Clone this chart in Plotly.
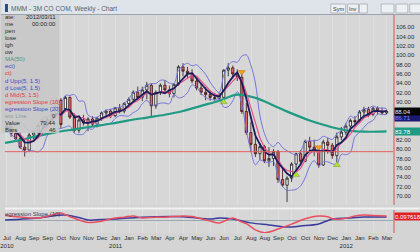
import plotly.graph_objects as go
import pandas as pd

# ---------------- data ----------------
dates = pd.date_range("2010-07-25", periods=86, freq="7D")

opens = [85.5, 84.6, 84.9, 83.3, 82.2, 80.4, 79.8, 83.0, 83.6, 85.0,
         86.0, 86.3, 87.5, 90.4, 88.6, 91.0, 86.8, 84.0, 86.2, 85.6,
         86.4, 85.3, 86.6, 87.7, 88.1, 87.1, 88.8, 88.1, 89.7, 90.6,
         92.1, 91.0, 92.6, 93.6, 89.2, 92.1, 93.6, 92.6, 91.8, 93.8,
         97.5, 96.6, 96.1, 94.5, 93.0, 92.1, 91.6, 91.0, 90.8, 91.0,
         96.8, 97.3, 96.0, 95.3, 88.0, 83.5, 81.0, 79.0, 80.5, 77.5,
         78.0, 79.5, 73.5, 72.3, 73.8, 76.8, 79.0, 77.4, 81.6, 80.4,
         79.8, 76.6, 81.5, 80.8, 78.6, 82.6, 83.6, 84.9, 86.1, 85.8,
         87.9, 88.4, 87.4, 88.7, 88.1, 87.7]
highs = [86.4, 85.6, 85.3, 84.0, 83.6, 82.0, 83.4, 84.0, 85.5, 86.5,
         87.0, 88.0, 90.8, 90.9, 91.3, 91.2, 87.6, 86.6, 87.3, 86.8,
         87.0, 86.9, 88.0, 88.4, 88.6, 89.0, 89.6, 90.0, 91.0, 92.5,
         93.3, 93.3, 94.3, 94.0, 92.5, 94.0, 94.7, 93.5, 94.0, 97.9,
         98.3, 97.5, 97.0, 95.2, 94.0, 93.2, 92.5, 92.0, 92.0, 97.0,
         98.3, 97.8, 97.0, 96.0, 89.8, 85.8, 82.6, 81.3, 80.9, 80.4,
         80.0, 79.8, 76.2, 74.2, 77.2, 79.2, 79.8, 82.0, 82.6, 82.0,
         80.2, 82.0, 82.4, 81.3, 83.5, 84.7, 85.5, 86.5, 87.0, 88.3,
         89.0, 89.0, 89.0, 89.1, 88.8, 88.4]
lows = [84.0, 83.6, 82.6, 81.8, 80.0, 78.4, 79.4, 82.0, 83.0, 84.4,
        85.0, 85.8, 87.0, 84.4, 88.0, 86.4, 83.5, 83.4, 85.0, 83.8,
        84.8, 84.6, 86.0, 86.6, 86.6, 86.8, 87.6, 87.6, 89.0, 90.0,
        90.5, 90.2, 90.6, 86.8, 88.6, 91.5, 92.0, 91.0, 91.0, 93.5,
        95.5, 95.0, 94.0, 92.5, 91.5, 90.4, 90.3, 90.3, 90.2, 90.5,
        95.5, 95.0, 94.5, 87.5, 83.0, 79.5, 78.3, 77.7, 77.0, 76.2,
        76.4, 72.8, 71.9, 68.7, 73.0, 75.5, 76.6, 77.2, 79.8, 78.5,
        76.0, 76.4, 79.0, 77.9, 77.2, 81.9, 83.0, 84.0, 85.2, 85.5,
        86.6, 86.8, 87.0, 87.3, 87.3, 87.4]
closes = [84.6, 84.9, 83.3, 82.2, 80.4, 79.8, 83.0, 83.6, 85.0, 86.0,
          86.3, 87.5, 90.3, 85.2, 91.0, 86.8, 84.0, 86.2, 85.6, 86.4,
          85.3, 86.6, 87.7, 88.1, 87.1, 88.8, 88.1, 89.7, 90.6, 92.1,
          91.0, 92.6, 93.6, 89.2, 92.1, 93.6, 92.6, 91.8, 93.8, 97.5,
          96.6, 96.1, 94.5, 93.0, 92.1, 91.6, 91.0, 90.8, 91.4, 96.8,
          97.3, 96.0, 95.3, 88.0, 83.5, 81.0, 79.0, 80.5, 77.5, 78.0,
          79.5, 73.5, 72.3, 73.8, 76.8, 79.0, 77.4, 81.6, 80.4, 79.8,
          76.6, 81.5, 80.8, 78.6, 82.6, 83.6, 84.9, 86.1, 85.8, 87.9,
          88.4, 87.4, 88.7, 88.1, 87.7, 88.04]

# SMA(50) (bar index -> value)
sma50_idx = [0, 4, 8, 12, 16, 20, 24, 28, 32, 36, 40, 44, 48, 52, 56,
             60, 64, 68, 72, 76, 80, 85]
sma50_val = [81.2, 81.9, 82.8, 83.6, 84.2, 84.8, 85.4, 86.1, 86.7, 87.3,
             88.1, 89.2, 90.3, 91.6, 90.9, 89.3, 87.6, 86.1, 84.9, 84.0,
             83.7, 83.78]

# Regression slope indicators (bar index -> value)
rs10_idx = [0, 4, 8, 12, 13, 15, 19, 22, 25, 27, 29, 31, 34, 36, 40, 42,
            45, 46, 48, 51, 53, 54, 56, 58, 60, 61, 64, 67, 70, 72, 73,
            75, 77, 78, 80, 82, 85]
rs10_val = [0.12, 0.075, 0.05, 0.15, 0.17, 0.08, -0.06, -0.03, 0.05, 0.07,
            0.10, 0.05, 0.07, 0.07, 0.10, 0.085, 0.0, -0.024, -0.073, 0.05,
            -0.05, -0.09, -0.24, -0.31, -0.26, -0.22, -0.10, 0.03, 0.098,
            0.08, 0.03, 0.024, 0.07, 0.098, 0.12, 0.11, 0.097618]
rs20_idx = [0, 4, 8, 12, 14, 17, 19, 22, 25, 31, 40, 46, 48, 51, 55, 59,
            63, 66, 70, 73, 77, 80, 85]
rs20_val = [0.0, 0.02, 0.05, 0.11, 0.12, 0.06, 0.0, 0.01, 0.024, 0.07,
            0.08, 0.024, 0.049, 0.024, -0.07, -0.12, -0.171, -0.146,
            -0.098, 0.024, 0.049, 0.073, 0.073]

buy_idx = [49, 65, 74]
buy_lvl = [90.0, 74.5, 76.6]
sell_idx = [53, 70]
sell_lvl = [96.4, 80.4]

target_value = 79.44
bars_value = 46
band_value = 86.71
sma_last = 83.78
rs20_last = 0.0731

tick_dates = ["2010-07-25", "2010-08-15", "2010-09-05", "2010-09-26",
              "2010-10-17", "2010-11-07", "2010-11-28", "2010-12-19",
              "2011-01-09", "2011-01-30", "2011-02-20", "2011-03-13",
              "2011-04-03", "2011-04-24", "2011-05-15", "2011-06-05",
              "2011-06-26", "2011-07-17", "2011-08-07", "2011-08-28",
              "2011-09-18", "2011-10-09", "2011-10-30", "2011-11-20",
              "2011-12-11", "2012-01-01", "2012-01-22", "2012-02-12",
              "2012-03-04"]
tick_text = ["Jul<br>2010", "Aug", "Sep", "Sep", "Oct", "Nov", "Nov", "Dec",
             "Jan<br>2011", "Jan", "Feb", "Mar", "Apr", "Apr", "May", "Jun",
             "Jun", "Jul", "Aug", "Aug", "Sep", "Oct", "Oct", "Nov", "Dec",
             "Jan<br>2012", "Jan", "Feb", "Mar"]
price_ticks = [70, 72, 74, 76, 78, 80, 82, 90, 92, 94, 96, 98, 100, 102, 104, 106]

# info panel text, as it is visible in the (left-clipped) reference panel
info_labels = ["ate:", "me", "pen", "lose", "igh", "ow", "MA(50)", "ect)", "ct)",
               "d Upp(5, 1.5)", "d Low(5, 1.5)", "d Mid(5, 1.5)",
               "egression Slope (10)", "egression Slope (20)", "ero Line",
               "Value", "Bars"]
info_values = ["2012/03/11", "00:00:00", "", "", "", "", "", "", "",
               "", "", "", "", "", "0", f"{target_value:.2f}", f"{bars_value}"]
info_colors = ["#2a2a2a"] * 6 + ["#3a9a8a", "#4848c8", "#e03a3a", "#4848c8",
                                 "#4848c8", "#e03a3a", "#e03a3a", "#4848c8",
                                 "#8a9aa0", "#2a2a2a", "#2a2a2a"]

# ---------------- derived indicators ----------------
cs = pd.Series(closes)
bb_mid = cs.rolling(5, min_periods=1).mean()
bb_sd = cs.rolling(5, min_periods=1).std(ddof=0)
bb_up = bb_mid + 1.5 * bb_sd
bb_lo = bb_mid - 1.5 * bb_sd
fast_line = cs.rolling(4, min_periods=1).mean()

FONT = "Liberation Sans, Arial, sans-serif"
W, H = 420, 252
ML, MR, MT, MB = 0, 27, 15, 19
PW, PH = W - ML - MR, H - MT - MB


def px2x(px):
    return (px - ML) / PW


def py(px):
    return (H - MB - px) / PH


fig = go.Figure()

fig.add_trace(go.Scatter(x=dates, y=bb_up, mode="lines",
                         line=dict(color="#7474dc", width=1, shape="spline")))
fig.add_trace(go.Scatter(x=dates, y=bb_lo, mode="lines",
                         line=dict(color="#7474dc", width=1, shape="spline")))
fig.add_trace(go.Scatter(x=[dates[i] for i in sma50_idx], y=sma50_val,
                         mode="lines", line=dict(color="#1f9a83", width=2.2,
                                                 shape="spline")))
fig.add_trace(go.Candlestick(
    x=dates, open=opens, high=highs, low=lows, close=closes,
    increasing=dict(line=dict(color="#151515", width=0.8), fillcolor="#ffffff"),
    decreasing=dict(line=dict(color="#3a1010", width=0.8), fillcolor="#e87070"),
    whiskerwidth=0))
fig.add_trace(go.Scatter(x=dates, y=bb_mid, mode="lines",
                         line=dict(color="#e8508a", width=1.2)))
fig.add_trace(go.Scatter(x=dates, y=fast_line, mode="lines",
                         line=dict(color="#1c1c5c", width=1.8)))
fig.add_trace(go.Scatter(x=[dates[i] for i in buy_idx], y=buy_lvl, mode="markers",
                         marker=dict(symbol="triangle-up", size=6, color="#b8e030",
                                     line=dict(color="#70a020", width=0.5))))
fig.add_trace(go.Scatter(x=[dates[i] for i in sell_idx], y=sell_lvl, mode="markers",
                         marker=dict(symbol="triangle-down", size=6, color="#f0a020",
                                     line=dict(color="#c07010", width=0.5))))

# indicator panel
fig.add_trace(go.Scatter(x=[dates[i] for i in rs20_idx], y=rs20_val, mode="lines",
                         line=dict(color="#3a3a9a", width=1.5, shape="spline"),
                         yaxis="y2"))
fig.add_trace(go.Scatter(x=[dates[i] for i in rs10_idx], y=rs10_val, mode="lines",
                         line=dict(color="#e85060", width=1.5, shape="spline"),
                         yaxis="y2"))

fig.update_layout(
    width=W, height=H, autosize=False,
    margin=dict(l=ML, r=MR, t=MT, b=MB, pad=0),
    paper_bgcolor="#d4d4d4", plot_bgcolor="#d7d7d7",
    showlegend=False,
    font=dict(family=FONT, size=6, color="#2a2a2a"),
    xaxis=dict(
        type="date", range=["2010-07-29 14:00", "2012-03-20 22:00"],
        anchor="y2",
        tickvals=[pd.Timestamp(d) + pd.Timedelta(days=7.6) for d in tick_dates],
        ticktext=tick_text, tickangle=0, ticks="", showline=False,
        showgrid=True, gridcolor="#dfdfdf", gridwidth=1,
        rangeslider=dict(visible=False), ticklabeloverflow="allow",
        tickfont=dict(size=6, color="#2a2a2a"), zeroline=False,
    ),
    yaxis=dict(
        domain=[(H - MB - 205) / PH, 1], range=[68.08, 108.56],
        side="right", tickvals=price_ticks, tickformat=".2f", ticks="",
        showgrid=False, zeroline=False, showline=True,
        linecolor="#d89494", linewidth=1.5,
        tickfont=dict(size=6, color="#2a2a2a"),
    ),
    yaxis2=dict(
        domain=[0, (H - MB - 210) / PH], range=[-0.317, 0.244],
        side="right", showticklabels=False, ticks="", showgrid=False,
        zeroline=True, zerolinecolor="#9ca8b0", zerolinewidth=1,
        showline=True, linecolor="#d89494", linewidth=1.5,
    ),
)

shapes = []
shapes.append(dict(type="line", xref="paper", x0=0, x1=1, yref="y",
                   y0=target_value, y1=target_value,
                   line=dict(color="#e06060", width=1)))
shapes.append(dict(type="line", xref="paper", x0=0, x1=W / PW, yref="paper",
                   y0=py(208.5), y1=py(208.5), line=dict(color="#f2f2f2", width=2)))
shapes.append(dict(type="rect", xref="paper", yref="paper", layer="above",
                   x0=-0.01, x1=px2x(55), y0=py(133), y1=py(14),
                   fillcolor="#c7c7c7", opacity=0.88, line=dict(width=0)))
shapes.append(dict(type="rect", xref="paper", yref="paper", layer="above",
                   x0=-0.01, x1=W / PW + 0.01, y0=py(14.5), y1=py(0),
                   fillcolor="#dfe4ea", line=dict(width=0)))
shapes.append(dict(type="line", xref="paper", yref="paper", layer="above",
                   x0=-0.01, x1=W / PW + 0.01, y0=py(14.5), y1=py(14.5),
                   line=dict(color="#9aa4ae", width=1)))
shapes.append(dict(type="rect", xref="paper", yref="paper", layer="above",
                   x0=px2x(0), x1=px2x(3), y0=py(12), y1=py(4),
                   fillcolor="#2a4a7a", line=dict(width=0)))
for (a, b) in [(330, 345), (347, 358), (359, 367), (381, 394), (396, 408), (410, 421)]:
    shapes.append(dict(type="rect", xref="paper", yref="paper", layer="above",
                       x0=px2x(a), x1=px2x(b), y0=py(13), y1=py(4),
                       fillcolor="#eef1f4", line=dict(color="#a4acb4", width=0.8)))
# thin strip of the (mostly hidden) slope-20 value marker on the right
shapes.append(dict(type="rect", xref="paper", yref="y2", layer="above",
                   x0=1.0025, x1=W / PW, y0=rs20_last - 0.06, y1=rs20_last - 0.02,
                   fillcolor="#1a9a9a", line=dict(width=0)))
fig.update_layout(shapes=shapes)

ann = []


def text(px_x, px_y, s, color="#2a2a2a", anchor="left", size=6):
    ann.append(dict(xref="paper", yref="paper", x=px2x(px_x), y=py(px_y),
                    xanchor=anchor, yanchor="middle", text=s, showarrow=False,
                    borderpad=0, font=dict(family=FONT, size=size, color=color)))


text(5, 8.5, "MMM - 3M CO COM, Weekly - Chart", color="#56606c", size=6.5)
text(337.5, 8.5, "Sym", anchor="center", size=5.5, color="#333")
text(352.5, 8.5, "Inv", anchor="center", size=5.5, color="#333")

for k, (lab, col, val) in enumerate(zip(info_labels, info_colors, info_values)):
    yy = 17 + 7.06 * k
    text(-1, yy, lab, color=col)
    if val:
        text(53, yy, val, anchor="right", color="#2a2a2a")

text(-1, 214, "egression Slope (10)", color="#3a3a50")


def vbox(val, s, bg, fg, yref="y"):
    ann.append(dict(xref="paper", x=1, xanchor="left", yref=yref, y=val,
                    yanchor="middle", text=s, showarrow=False, bgcolor=bg,
                    width=26, height=7, borderpad=0, align="left", xshift=1,
                    font=dict(family=FONT, size=6, color=fg)))


vbox(band_value, f"{band_value:.2f}", "#1a1a70", "#7f8cff")
vbox(closes[-1], f"{closes[-1]:.2f}", "#050505", "#e0e8ff")
vbox(sma_last, f"{sma_last:.2f}", "#1f9a83", "#ffffff")
vbox(rs10_val[-1], f"{rs10_val[-1]:.6f}", "#e02020", "#ffffff", yref="y2")

fig.update_layout(annotations=ann)
fig.write_html("out.html")
